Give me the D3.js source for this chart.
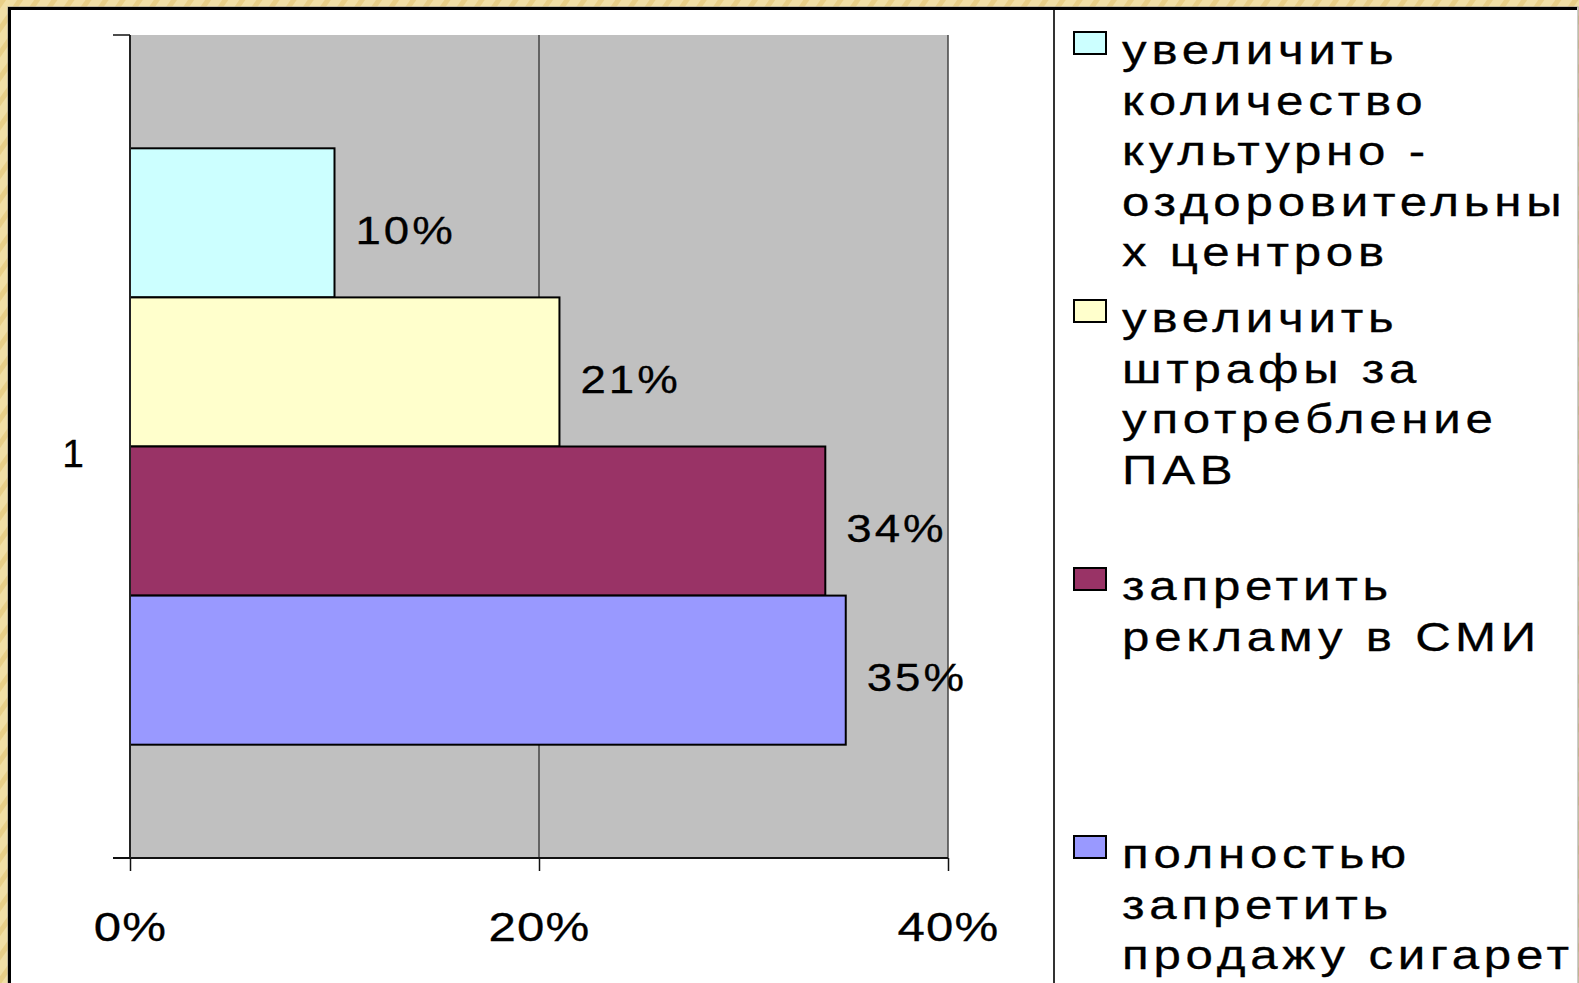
<!DOCTYPE html>
<html>
<head>
<meta charset="utf-8">
<script src="https://cdn.jsdelivr.net/npm/d3@7"></script>
<style>
  body { margin: 0; }
  svg text { font-family: "Liberation Sans", Arial, sans-serif; fill: #000; stroke: #000; stroke-width: 0.3px; white-space: pre; }
</style>
</head>
<body>
<svg></svg>
<script>
const WIDTH = 1579;
const HEIGHT = 983;
const STRETCH = 1.2; // the slide text is stretched sideways

// data
const categories = ["1"];
const seriesNames = [
    "увеличить количество культурно - оздоровительных центров",
    "увеличить штрафы за употребление ПАВ",
    "запретить рекламу в СМИ",
    "полностью запретить продажу сигарет"
];
const values = [0.10, 0.21, 0.34, 0.35];
const legendLines = [
    ["увеличить", "количество", "культурно -", "оздоровительны", "х центров"],
    ["увеличить", "штрафы за", "употребление", "ПАВ"],
    ["запретить", "рекламу в СМИ"],
    ["полностью", "запретить", "продажу сигарет"]
];
const xTicks = [0, 0.2, 0.4];
const colors = ["#CCFFFF", "#FFFFCC", "#993366", "#9999FF"];

const svg = d3.select('svg')
    .attr('width', WIDTH)
    .attr('height', HEIGHT);

// tan textured frame behind the slide
const defs = svg.append('defs');
const pat = defs.append('pattern')
    .attr('id', 'tan')
    .attr('width', 14).attr('height', 14)
    .attr('patternUnits', 'userSpaceOnUse')
    .attr('patternTransform', 'rotate(35)');
pat.append('rect').attr('width', 14).attr('height', 14).attr('fill', '#F1DFA6');
pat.append('rect').attr('width', 5).attr('height', 14).attr('fill', '#E8CF88');

svg.append('rect').attr('width', WIDTH).attr('height', HEIGHT).attr('fill', 'url(#tan)');

// white panel with black top/left edge
svg.append('rect')
    .attr('x', 8).attr('y', 7)
    .attr('width', WIDTH - 9).attr('height', HEIGHT)
    .attr('fill', '#fff')
    .attr('stroke', '#999').attr('stroke-width', 1);
svg.append('path')
    .attr('d', 'M9.5,' + HEIGHT + 'V8.5H' + (WIDTH - 2))
    .attr('fill', 'none')
    .attr('stroke', '#000')
    .attr('stroke-width', 3);

// scales
const xScale = d3.scaleLinear().domain([0, 0.4]).range([130, 948]);
const yScale = d3.scaleBand().domain(categories).range([35, 858]).paddingOuter(0.19).paddingInner(0);
const innerScale = d3.scaleBand().domain(seriesNames).range([0, yScale.bandwidth()]);

// plot area
svg.append('rect')
    .attr('x', xScale(0)).attr('y', 35)
    .attr('width', xScale(0.4) - xScale(0)).attr('height', 858 - 35)
    .attr('fill', '#C0C0C0');

// gridlines
svg.append('g').selectAll('line')
    .data(xTicks.slice(1))
    .enter().append('line')
    .attr('x1', d => xScale(d)).attr('x2', d => xScale(d))
    .attr('y1', 35).attr('y2', 858)
    .attr('stroke', '#444').attr('stroke-width', 1.5);

// bars
const bars = svg.append('g');
bars.selectAll('rect')
    .data(values)
    .enter().append('rect')
    .attr('x', xScale(0))
    .attr('y', (d, i) => yScale(categories[0]) + innerScale(seriesNames[i]))
    .attr('width', d => xScale(d) - xScale(0))
    .attr('height', innerScale.bandwidth())
    .attr('fill', (d, i) => colors[i])
    .attr('stroke', '#000')
    .attr('stroke-width', 2);

// data labels
bars.selectAll('text')
    .data(values)
    .enter().append('text')
    .attr('transform', (d, i) => 'translate(' + (xScale(d) + 21) + ',' +
        (yScale(categories[0]) + innerScale(seriesNames[i]) + innerScale.bandwidth() / 2 + 21) +
        ') scale(' + STRETCH + ',1)')
    .style('font-size', '38px')
    .style('letter-spacing', '2.5px')
    .text(d => d3.format('.0%')(d));

// bottom axis
const bottomAxis = d3.axisBottom(xScale)
    .tickValues(xTicks)
    .tickFormat(d3.format('.0%'))
    .tickSize(13)
    .tickPadding(41);
const gx = svg.append('g').attr('id', 'bottom-axis')
    .attr('transform', 'translate(0,858)')
    .call(bottomAxis);
gx.select('.domain').attr('stroke', '#111').attr('stroke-width', 2).attr('d', 'M113,0H' + xScale(0.4));
gx.selectAll('.tick line').attr('stroke', '#111').attr('stroke-width', 1.5);
gx.selectAll('.tick text')
    .attr('transform', 'scale(' + STRETCH + ',1)')
    .style('font-size', '41px')
    .style('letter-spacing', '1px')
    .attr('font-family', null)
    .attr('fill', '#000');

// left category axis
const gy = svg.append('g').attr('id', 'left-axis');
gy.append('line')
    .attr('x1', xScale(0)).attr('x2', xScale(0))
    .attr('y1', 35).attr('y2', 858)
    .attr('stroke', '#222').attr('stroke-width', 2);
gy.selectAll('line.tick')
    .data(yScale.range())
    .enter().append('line')
    .attr('class', 'tick')
    .attr('x1', 113).attr('x2', xScale(0))
    .attr('y1', d => d).attr('y2', d => d)
    .attr('stroke', '#111').attr('stroke-width', 1.5);
gy.selectAll('text')
    .data(categories)
    .enter().append('text')
    .attr('transform', d => 'translate(84,' + (yScale(d) + yScale.bandwidth() / 2 + 20) + ')')
    .attr('text-anchor', 'end')
    .style('font-size', '39px')
    .text(d => d);

// legend divider
svg.append('line')
    .attr('x1', 1054).attr('x2', 1054)
    .attr('y1', 10).attr('y2', HEIGHT)
    .attr('stroke', '#333').attr('stroke-width', 2);

// legend
const legendY = d3.scalePoint().domain(seriesNames).range([52, 856]);
const lineStep = 50.5;
const legend = svg.append('g').selectAll('g')
    .data(seriesNames)
    .enter().append('g')
    .attr('transform', d => 'translate(0,' + legendY(d) + ')');
legend.append('rect')
    .attr('x', 1074).attr('y', -20)
    .attr('width', 32).attr('height', 22)
    .attr('fill', (d, i) => colors[i])
    .attr('stroke', '#000').attr('stroke-width', 2);
legend.each(function(d, i) {
    d3.select(this).selectAll('text')
        .data(legendLines[i])
        .enter().append('text')
        .attr('transform', (t, j) => 'translate(1122,' + (j * lineStep + 12) + ') scale(' + STRETCH + ',1)')
        .style('font-size', '41px')
        .style('letter-spacing', '4px')
        .text(t => t);
});
</script>
</body>
</html>
